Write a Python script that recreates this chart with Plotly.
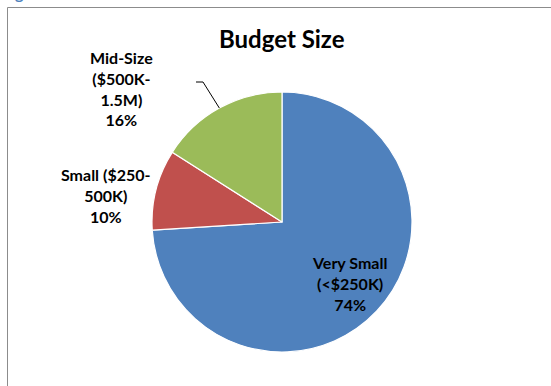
import math
import plotly.graph_objects as go

# Budget size distribution
categories = ["Very Small", "Small", "Mid-Size"]
ranges = ["(<$250K)", "($250-500K)", "($500K-1.5M)"]
shares = [74, 10, 16]
colors = ["#4F81BD", "#C0504D", "#9BBB59"]

W, H = 551, 386
CX, CY, R = 282, 222, 130  # pie centre / radius in pixels

FONT = "Lato"

fig = go.Figure(
    go.Pie(
        labels=categories,
        values=shares,
        sort=False,
        direction="clockwise",
        rotation=0,
        textinfo="none",
        hoverinfo="label+percent",
        marker=dict(colors=colors, line=dict(color="white", width=1.2)),
        domain=dict(
            x=[(CX - R) / W, (CX + R) / W],
            y=[(H - CY - R) / H, (H - CY + R) / H],
        ),
        showlegend=False,
    )
)


def px(x):
    return x / W


def py(y):
    return 1 - y / H


# angle (clockwise from 12 o'clock) of each slice's midpoint
total = sum(shares)
mids = []
acc = 0
for v in shares:
    mids.append((acc + v / 2) / total * 360)
    acc += v


def edge_point(deg, rr=R):
    a = math.radians(deg)
    return CX + rr * math.sin(a), CY - rr * math.cos(a)


label_font = dict(family=FONT, size=16, color="black")
label_text = [
    f"<b>Very Small<br>{ranges[0]}<br>{shares[0]}%</b>",
    f"<b>Small ($250-<br>500K)<br>{shares[1]}%</b>",
    f"<b>Mid-Size<br>($500K-<br>1.5M)<br>{shares[2]}%</b>",
]
label_pos = [(349, 283), (105, 195), (121, 88)]

annotations = []
for txt, (lx, ly) in zip(label_text, label_pos):
    annotations.append(
        dict(
            text=txt, x=px(lx), y=py(ly), xref="paper", yref="paper",
            showarrow=False, font=label_font, align="center",
            xanchor="center", yanchor="middle",
        )
    )

# title
annotations.append(
    dict(
        text="<b>Budget Size</b>", x=px(282), y=py(38), xref="paper", yref="paper",
        showarrow=False, font=dict(family=FONT, size=24, color="black"),
        xanchor="center", yanchor="middle",
    )
)

# figure caption, partly above the page edge
annotations.append(
    dict(
        text="<b>Figure 6</b>", x=0, y=py(4), xref="paper", yref="paper",
        showarrow=False, font=dict(family=FONT, size=16, color="#4F81BD"),
        xanchor="left", yanchor="bottom",
    )
)

# leader line for the mid-size slice
ex, ey = edge_point(mids[2])
shapes = [
    dict(type="line", xref="paper", yref="paper",
         x0=px(196), y0=py(82), x1=px(203), y1=py(82),
         line=dict(color="black", width=1)),
    dict(type="line", xref="paper", yref="paper",
         x0=px(203), y0=py(82), x1=px(ex), y1=py(ey),
         line=dict(color="black", width=1)),
    # chart frame
    dict(type="rect", xref="paper", yref="paper",
         x0=px(7.5), y0=py(7.5), x1=px(W + 20), y1=py(H + 20),
         line=dict(color="#8C8C8C", width=1), layer="below"),
]

fig.update_layout(
    width=W, height=H,
    margin=dict(l=0, r=0, t=0, b=0),
    paper_bgcolor="white",
    plot_bgcolor="white",
    annotations=annotations,
    shapes=shapes,
)

fig.write_html("out.html")
